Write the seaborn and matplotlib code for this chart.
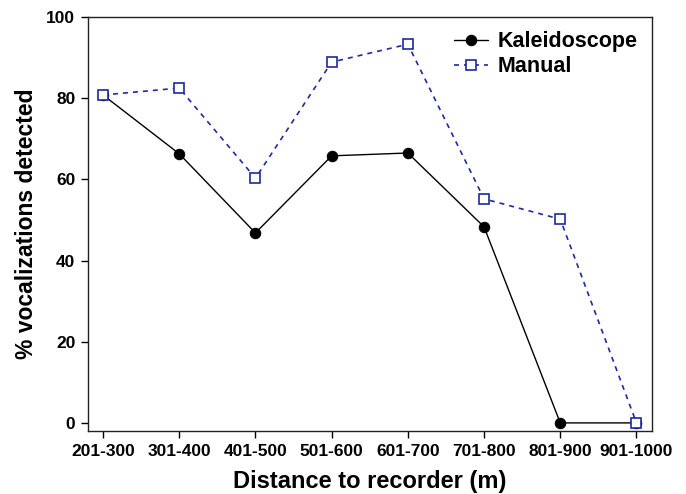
import matplotlib
matplotlib.use("Agg")
import matplotlib.pyplot as plt
import seaborn as sns
import pandas as pd

categories = ["201-300", "301-400", "401-500", "501-600", "601-700", "701-800", "801-900", "901-1000"]
kaleidoscope = [80.8, 66.3, 46.8, 65.8, 66.5, 48.3, 0.0, 0.0]
manual = [80.8, 82.5, 60.3, 88.9, 93.3, 55.2, 50.2, 0.0]

sns.set_theme(style="ticks")
plt.rcParams['font.family'] = ['Liberation Sans', 'DejaVu Sans']
plt.rcParams['font.weight'] = 'bold'
plt.rcParams['text.color'] = 'black'
plt.rcParams['axes.labelcolor'] = 'black'
plt.rcParams['xtick.color'] = 'black'
plt.rcParams['ytick.color'] = 'black'

fig = plt.figure(figsize=(6.86, 4.94), dpi=100)
ax = fig.add_axes([0.128, 0.1275, 0.822, 0.838])

x = list(range(len(categories)))
df_k = pd.DataFrame({"x": x, "y": kaleidoscope})
df_m = pd.DataFrame({"x": x, "y": manual})

sns.lineplot(data=df_k, x="x", y="y", ax=ax, color="black", linewidth=1.0,
             marker="o", markersize=7.5, markerfacecolor="black", markeredgecolor="black",
             label="Kaleidoscope")
sns.lineplot(data=df_m, x="x", y="y", ax=ax, color="#1f2a9c", linewidth=1.2,
             linestyle=(0, (3, 3)), marker="s", markersize=7.5, markerfacecolor="white",
             markeredgecolor="#1f2a9c", markeredgewidth=1.2, label="Manual")

ax.set_xlim(-0.2, 7.2)
ax.set_ylim(-2, 100)
ax.set_xticks(x)
ax.set_xticklabels(categories)
ax.set_yticks([0, 20, 40, 60, 80, 100])
for s in ax.spines.values():
    s.set_linewidth(1.0)
    s.set_color("#222222")
ax.tick_params(axis="both", direction="out", length=5, width=1, labelsize=12.5, pad=4,
               colors="black")
for lab in ax.get_xticklabels() + ax.get_yticklabels():
    lab.set_fontweight("bold")

ax.set_xlabel("Distance to recorder (m)", fontsize=17, fontweight="bold", labelpad=8)
ax.set_ylabel("% vocalizations detected", fontsize=16.5, fontweight="bold", labelpad=6)

leg = ax.legend(loc="upper right", bbox_to_anchor=(1.0, 1.0), frameon=False,
                prop={"size": 15.5, "weight": "bold"}, handlelength=1.6,
                handletextpad=0.45, labelspacing=0.2, borderaxespad=0.25)

fig.savefig("out.png", dpi=100)
